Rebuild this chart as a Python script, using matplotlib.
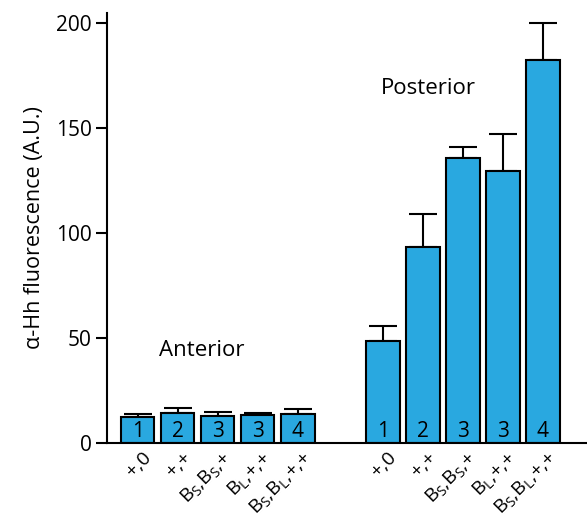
import matplotlib
matplotlib.use("Agg")
import matplotlib.pyplot as plt
import numpy as np

plt.rcParams['font.family'] = ['Open Sans', 'DejaVu Sans']
plt.rcParams['mathtext.fontset'] = 'custom'
plt.rcParams['mathtext.rm'] = 'Open Sans'

genotypes = ['+,0', '+,+', r'B$_\mathregular{S}$,B$_\mathregular{S}$,+',
             r'B$_\mathregular{L}$,+,+', r'B$_\mathregular{S}$,B$_\mathregular{L}$,+,+']
bar_numbers = ['1', '2', '3', '3', '4']
anterior_mean = [12.5, 14.2, 13.0, 13.2, 14.0]
anterior_err = [1.3, 2.4, 1.7, 1.3, 2.1]
posterior_mean = [48.7, 93.6, 135.6, 129.4, 182.3]
posterior_err = [7.3, 15.4, 5.4, 17.6, 17.7]

color = '#29A8E0'
fig = plt.figure(figsize=(5.87, 5.25), dpi=100)
ax = fig.add_axes([0.182, 0.156, 0.818, 0.82])

x_ant = np.arange(5)
x_post = np.arange(5) + 6.125
width = 0.83
for xs, m, e in [(x_ant, anterior_mean, anterior_err), (x_post, posterior_mean, posterior_err)]:
    ax.bar(xs, m, width=width, color=color, edgecolor='black', linewidth=1.5, zorder=2)
    ax.errorbar(xs, m, yerr=[np.zeros(5), e], fmt='none', ecolor='black',
                elinewidth=1.5, capsize=10, capthick=1.5, zorder=1)
    for xi, n in zip(xs, bar_numbers):
        ax.text(xi, 0.5, n, ha='center', va='bottom', fontsize=15)

ax.set_xlim(-0.775, 11.225)
ax.set_ylim(0, 205)
ax.set_yticks([0, 50, 100, 150, 200])
ax.tick_params(axis='y', direction='out', length=8, width=1.5, labelsize=15, pad=3)
ax.set_xticks(np.concatenate([x_ant, x_post]) + 0.1)
ax.set_xticklabels(genotypes * 2, rotation=45, ha='right', rotation_mode='anchor', fontsize=14)
ax.tick_params(axis='x', length=0, pad=4)
for s in ['top', 'right']:
    ax.spines[s].set_visible(False)
ax.spines['left'].set_linewidth(1.5)
ax.spines['bottom'].set_linewidth(1.5)
ax.spines['left'].set_bounds(0, 205)
ax.set_ylabel('α-Hh fluorescence (A.U.)', fontsize=15.5, labelpad=8)

ax.text(1.6, 44, 'Anterior', ha='center', va='center', fontsize=16)
ax.text(7.25, 169, 'Posterior', ha='center', va='center', fontsize=16)

fig.savefig('out.png', dpi=100)
